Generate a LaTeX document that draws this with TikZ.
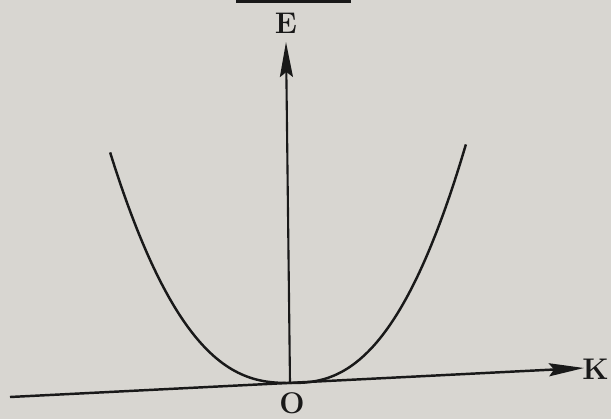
\documentclass[tikz,border=0pt]{standalone}
\usepackage{tikz}
\usetikzlibrary{arrows.meta}
\usetikzlibrary{positioning}

\definecolor{paper}{RGB}{216,214,209}
\definecolor{ink}{RGB}{25,25,25}

\tikzset{
    axis/.style={ink,line width=1.4pt,-{Stealth[length=7mm,width=2.6mm,inset=1mm]}},
    band/.style={ink,line width=1.4pt},
    lbl/.style={ink,inner sep=0pt,font=\fontsize{17}{19}\selectfont\bfseries}
}

\begin{document}
\begin{tikzpicture}[x=0.02cm,y=-0.02cm]
    % page
    \fill[paper] (0,0) rectangle (611,419);
    \useasboundingbox (0,0) rectangle (611,419);

    % rule from the line above
    \draw[ink,line width=2.5pt] (236,0.5) -- (351,0.5);

    % Axes
    \coordinate (O) at (290,383);
    \coordinate (kstart) at (10,397);
    \coordinate (kend) at (584,368);
    \coordinate (etop) at (286,42);
    \draw[axis] (kstart) -- (kend);
    \draw[axis,line width=1.2pt] (O) -- (etop);

    % Labels
    \node[lbl,anchor=east] (klabel) at (609,369) {K};
    \node[lbl] (elabel) at (286,23) {E};
    \node[lbl,anchor=south] (olabel) at (292,414) {O};

    % E(K) curve, both halves from the origin
    \draw[band] plot[domain=0:1,samples=60,smooth] ({290-180*\x},{383-231*\x*\x*sqrt(\x)});
    \draw[band] plot[domain=0:1,samples=60,smooth] ({290+176*\x},{383-239*\x*\x*sqrt(\x)});
\end{tikzpicture}
\end{document}
